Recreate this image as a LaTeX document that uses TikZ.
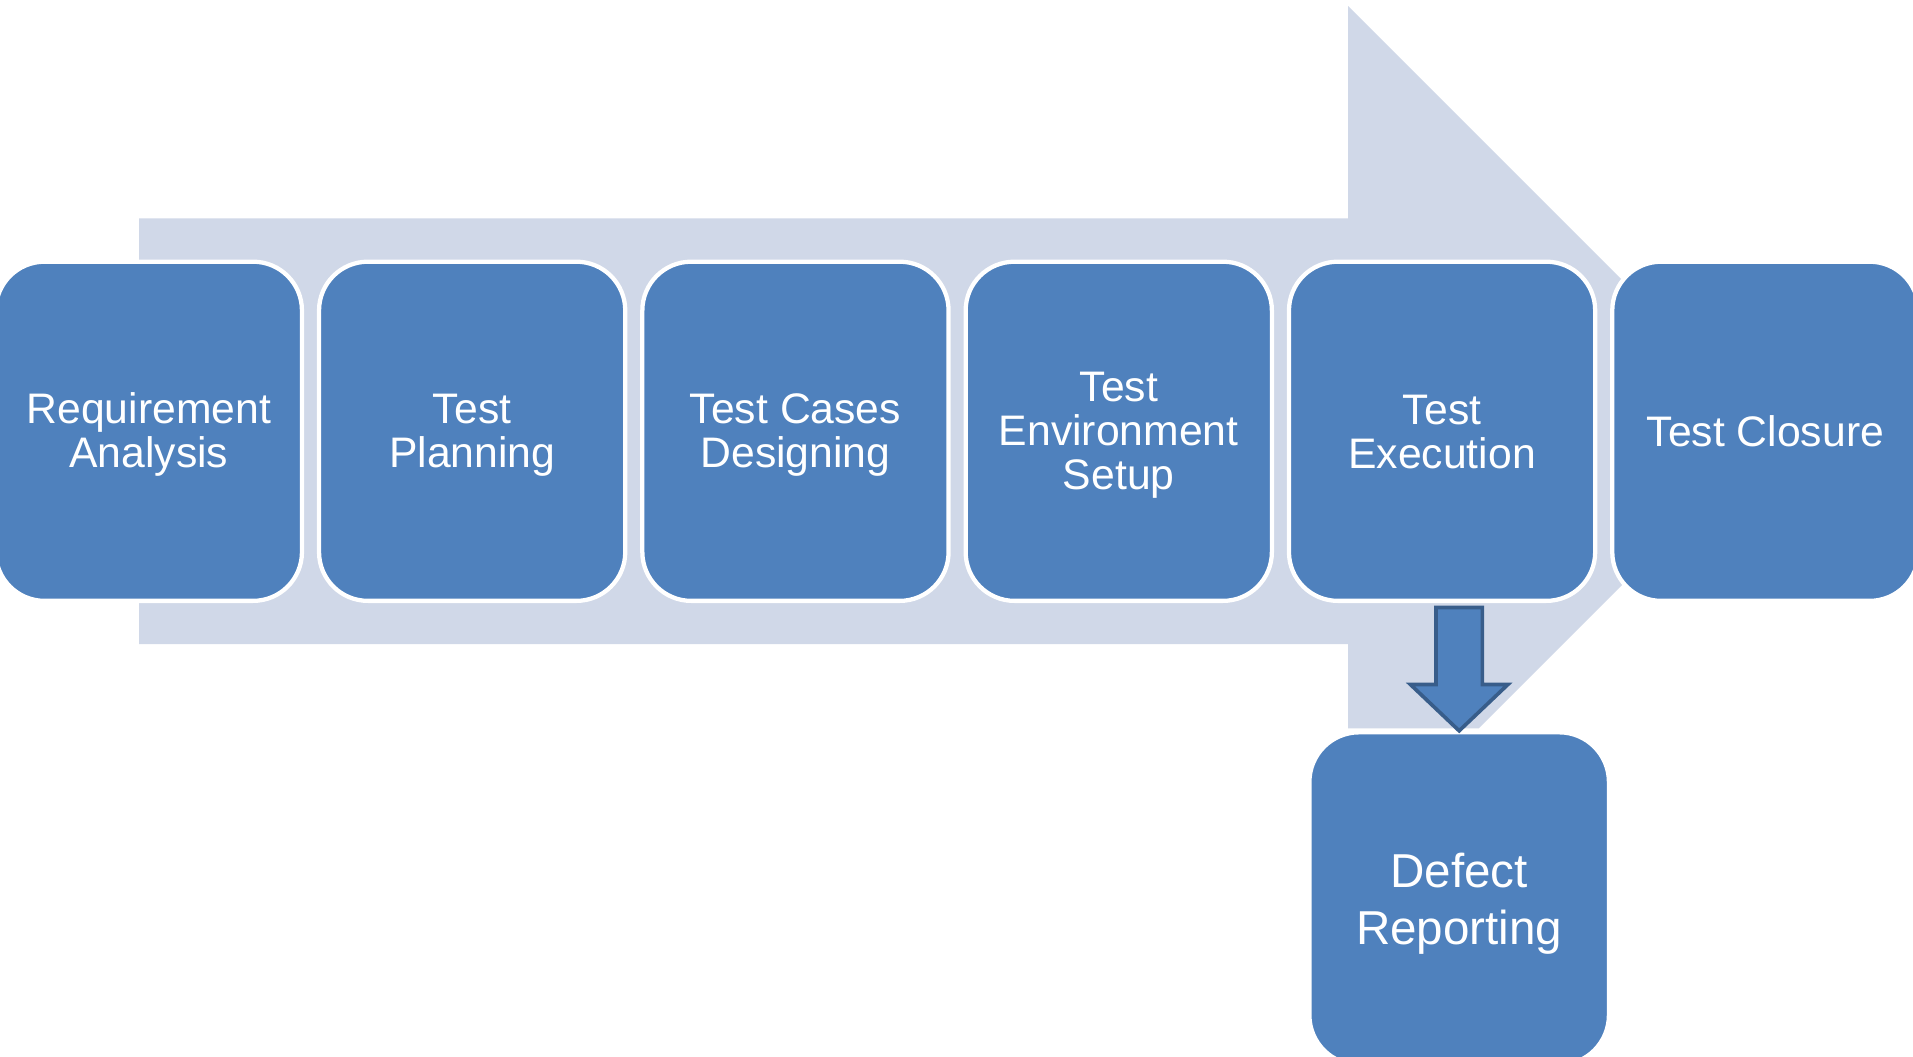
\documentclass[tikz,border=0pt]{standalone}
\usepackage{fontspec}
\setmainfont{Liberation Sans}
\usetikzlibrary{calc}
\definecolor{boxblue}{HTML}{4F81BD}
\definecolor{arrowgrey}{HTML}{D0D8E8}
\definecolor{darkblue}{HTML}{385D8A}
\setlength{\lineskiplimit}{-50pt}
% struts symmetric about the middle of the capitals, so lines centre like in the reference
\newcommand\mystrut{\rule[-5.2pt]{0pt}{35.8pt}}
\newcommand\mydstrut{\rule[-9.2pt]{0pt}{46.8pt}}
\tikzset{
  stagebox/.style={draw=white, line width=3.5pt, fill=boxblue, rounded corners=40pt,
    minimum width=251pt, minimum height=278pt, inner sep=0pt, text=white, align=center,
    font=\fontsize{35}{36}\selectfont},
  defectbox/.style={draw=white, line width=2pt, fill=boxblue, rounded corners=40pt,
    minimum width=244pt, minimum height=271pt, inner sep=0pt, text=white, align=center,
    font=\fontsize{39}{47}\selectfont},
  blockarrow/.style={fill=boxblue, draw=darkblue, line width=3pt, line join=miter}
}
\begin{document}
\begin{tikzpicture}[x=1pt,y=-1pt]
\useasboundingbox (0,0) rectangle (1568,866);
\clip (0,0) rectangle (1568,866);
\fill[white] (0,0) rectangle (1568,866);
% background process arrow
\fill[arrowgrey] (114,179) -- (1105,179) -- (1105,5) -- (1454.5,354.5) -- (1212,597)
  -- (1105,597) -- (1105,528) -- (114,528) -- cycle;
% stages
\node[stagebox] (req)  at (122,353.5)  {\mystrut Requirement\\\mystrut Analysis};
\node[stagebox] (plan) at (387,353.5)  {\mystrut Test\\\mystrut Planning};
\node[stagebox] (cases) at (652,353.5) {\mystrut Test Cases\\\mystrut Designing};
\node[stagebox] (env)  at (917,353.5)  {\mystrut Test\\\mystrut Environment\\\mystrut Setup};
\node[stagebox] (exec) at (1182,353.5) {\mystrut Test\\\mystrut Execution};
\node[stagebox] (close) at (1447,353.5) {\mystrut Test Closure};
\node[defectbox] (defect) at (1196,736.5) {\mydstrut Defect\\\mydstrut Reporting};
% block arrow from execution to defect reporting
\coordinate (tip) at ($(defect.north)+(0,-1)$);
\draw[blockarrow] (tip) -- ++(-40,-38) -- ++(21,0) -- ++(0,-63) -- ++(38,0)
  -- ++(0,63) -- ++(21,0) -- cycle;
\end{tikzpicture}
\end{document}
